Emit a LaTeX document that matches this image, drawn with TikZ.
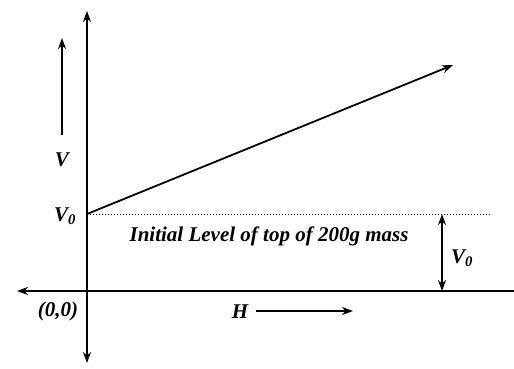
\documentclass[tikz,border=0pt]{standalone}
\usepackage{fontspec}
\setmainfont{Liberation Serif}
\usetikzlibrary{arrows.meta}
\tikzset{
  lbl/.style={font=\fontsize{21}{24}\selectfont\bfseries\itshape, inner sep=0pt},
  tip/.style={Stealth[length=11pt,width=8pt]},
  axis/.style={line width=2.6pt, -{Stealth[length=11pt,width=8pt]}},
  arr/.style={line width=1.8pt, -{Stealth[length=11pt,width=8pt]}},
}
\begin{document}
\begin{tikzpicture}[x=1pt,y=-1pt]
\useasboundingbox (0,0) rectangle (514,369);
\coordinate (O) at (87,291);
\coordinate (top) at (87,11);
\coordinate (bot) at (87,363);
\coordinate (left) at (17,291);
\coordinate (right) at (514,291);
\coordinate (v0pt) at (87,214);
\coordinate (lineend) at (453,65);
\coordinate (dotend) at (490,214);
\coordinate (da) at (442,214);
\coordinate (db) at (442,291);
\coordinate (vua) at (62,135);
\coordinate (vub) at (62,38);
\coordinate (ha) at (256,311);
\coordinate (hb) at (353,311);
% axes
\draw[axis] (O) -- (top);
\draw[axis] (O) -- (bot);
\draw[axis] (O) -- (left);
\draw[line width=2.6pt] (O) -- (right);
% dotted level
\draw[dotted, line width=1pt] (v0pt) -- (dotend);
% sloped line
\draw[arr] (v0pt) -- (lineend);
% V arrow
\draw[arr] (vua) -- (vub);
% double arrow
\draw[line width=1.8pt, {Stealth[length=11pt,width=8pt]}-{Stealth[length=11pt,width=8pt]}] (da) -- (db);
% H arrow
\draw[arr] (ha) -- (hb);
% labels
\node[lbl] (V) at (62,160) {V};
\node[lbl] (V0a) at (65,216) {V\textsubscript{0}};
\node[lbl] (V0b) at (462,258) {V\textsubscript{0}};
\node[lbl] (init) at (269,236) {Initial Level of top of 200g mass};
\node[lbl] (orig) at (58,311) {(0,0)};
\node[lbl] (H) at (240,312) {H};
\end{tikzpicture}
\end{document}
